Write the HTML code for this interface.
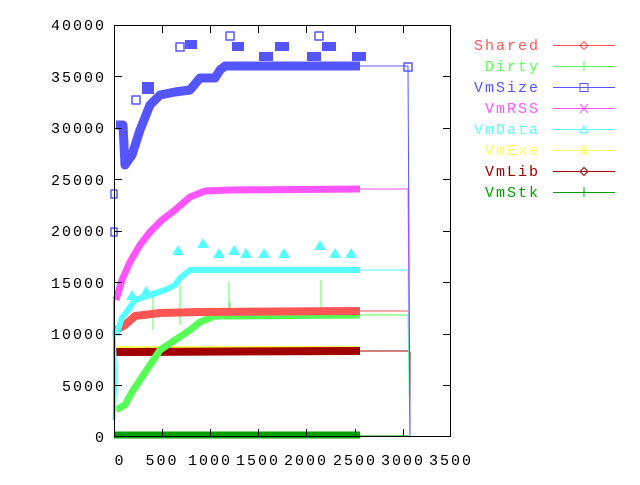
<!DOCTYPE html>
<html><head><style>
html,body{margin:0;padding:0;background:#fff;}
svg text{font-family:"Liberation Mono",monospace;font-size:15px;letter-spacing:2px;}
</style></head><body>
<svg width="640" height="480" xmlns="http://www.w3.org/2000/svg">
<g fill="none" stroke-linejoin="round">
<!-- VmStk -->
<path d="M114 435 L360 435" stroke="#00a000" stroke-width="7"/>
<path d="M360 436 L408 436 L410 437" stroke="#00a000" stroke-width="1"/>
<!-- VmExe -->
<path d="M114 349 L360 349" stroke="#ffff55" stroke-width="6"/>
<!-- VmLib -->
<path d="M116 352 L360 351" stroke="#a00000" stroke-width="8"/>
<path d="M360 351 L408 351 L410 352 L410 437" stroke="#a00000" stroke-width="1"/>
<!-- Dirty -->
<path d="M116 410 L125 405 L132 392 L140 380 L150 365 L160 350 L175 340 L190 330 L200 322 L215 316 L240 316 L360 315" stroke="#55ff55" stroke-width="7"/>
<path d="M360 315 L408 315 L410 437" stroke="#55ff55" stroke-width="1"/>
<path d="M153 290 L153 330 M180 285 L180 325 M229 282 L229 318 M321 280 L321 318 M230 302 L230 318" stroke="#55ff55" stroke-width="1"/>
<!-- Shared -->
<path d="M116 330 L125 325 L135 316 L160 313 L200 312 L360 311" stroke="#ff5555" stroke-width="8"/>
<path d="M360 311 L408 311" stroke="#ff5555" stroke-width="1"/>
<!-- VmData -->
<path d="M116 335 L122 318 L135 300 L150 295 L165 290 L175 285 L180 278 L190 270 L360 270" stroke="#55ffff" stroke-width="6"/>
<path d="M360 270 L408 270 L410 437" stroke="#55ffff" stroke-width="1"/>
<path d="M114 420 L116 380 L114 330" stroke="#55ffff" stroke-width="3"/>
<g fill="#55ffff" stroke="none">
<path d="M172 255 l6 -10 l6 10z M197 248 l6 -10 l6 10z M213 258 l6 -10 l6 10z M228 255 l6 -10 l6 10z M240 258 l6 -10 l6 10z M258 258 l6 -10 l6 10z M278 258 l6 -10 l6 10z M314 250 l6 -10 l6 10z M329 258 l6 -10 l6 10z M345 258 l6 -10 l6 10z M126 300 l6 -10 l6 10z M140 296 l6 -10 l6 10z"/>
</g>
<!-- VmRSS -->
<path d="M116 300 L122 280 L130 262 L140 245 L150 232 L162 220 L175 210 L190 197 L205 191 L230 190 L360 189" stroke="#ff55ff" stroke-width="7"/>
<path d="M360 189 L408 189 L410 437" stroke="#ff55ff" stroke-width="1"/>
<path d="M114 300 L114 420" stroke="#ff55ff" stroke-width="2"/>
<!-- VmSize -->
<path d="M116 125 L123 125 L125 165 L132 155 L140 130 L150 105 L160 95 L175 92 L190 90 L200 78 L215 78 L220 70 L225 66 L360 66" stroke="#5555ff" stroke-width="9"/>
<path d="M360 66 L408 66 L410 437" stroke="#5555ff" stroke-width="1"/>
<g stroke="#5555ff" stroke-width="1.5">
<rect x="132" y="96" width="8" height="8"/><rect x="176" y="43" width="8" height="8"/><rect x="226" y="32" width="8" height="8"/><rect x="315" y="32" width="8" height="8"/><rect x="111" y="228" width="6" height="8"/><rect x="111" y="190" width="6" height="8"/><rect x="404" y="63" width="8" height="8"/>
</g>
<g fill="#5555ff" stroke="none">
<rect x="185" y="40" width="12" height="9"/><rect x="232" y="42" width="12" height="9"/><rect x="275" y="42" width="14" height="9"/><rect x="322" y="42" width="14" height="9"/><rect x="259" y="52" width="14" height="9"/><rect x="307" y="52" width="14" height="9"/><rect x="352" y="52" width="14" height="9"/><rect x="142" y="82" width="12" height="12"/>
</g>
</g>
<!-- axes -->
<g stroke="#000" stroke-width="1" fill="none">
<rect x="114.5" y="25.5" width="336" height="411"/>
<path d="M114 385.5h8M114 334.5h8M114 282.5h8M114 231.5h8M114 179.5h8M114 128.5h8M114 76.5h8 M451 385.5h-8M451 334.5h-8M451 282.5h-8M451 231.5h-8M451 179.5h-8M451 128.5h-8M451 76.5h-8"/>
<path d="M162.5 437v-8M210.5 437v-8M258.5 437v-8M306.5 437v-8M355.5 437v-8M403.5 437v-8 M162.5 25v8M210.5 25v8M258.5 25v8M306.5 25v8M355.5 25v8M403.5 25v8"/>
</g>
<g fill="#000" text-anchor="end">
<text x="106" y="442">0</text><text x="106" y="391">5000</text><text x="106" y="339">10000</text><text x="106" y="288">15000</text><text x="106" y="236">20000</text><text x="106" y="185">25000</text><text x="106" y="133">30000</text><text x="106" y="82">35000</text><text x="106" y="30">40000</text>
</g>
<g fill="#000" text-anchor="middle">
<text x="120" y="465">0</text><text x="162" y="465">500</text><text x="210" y="465">1000</text><text x="258" y="465">1500</text><text x="306" y="465">2000</text><text x="355" y="465">2500</text><text x="403" y="465">3000</text><text x="451" y="465">3500</text>
</g>
<!-- legend -->
<g text-anchor="end">
<text x="540" y="50" fill="#ff5555">Shared</text>
<text x="540" y="71" fill="#55ff55">Dirty</text>
<text x="540" y="92" fill="#5555ff">VmSize</text>
<text x="540" y="113" fill="#ff55ff">VmRSS</text>
<text x="540" y="134" fill="#55ffff">VmData</text>
<text x="540" y="155" fill="#ffff55">VmExe</text>
<text x="540" y="176" fill="#a00000">VmLib</text>
<text x="540" y="197" fill="#00a000">VmStk</text>
</g>
<g stroke-width="1" fill="none">
<path d="M553 45.5h62" stroke="#ff5555"/><path d="M580 45.5l4-4l4 4l-4 4z" stroke="#ff5555"/>
<path d="M553 66.5h62M584 61v10" stroke="#55ff55"/>
<path d="M553 87.5h62" stroke="#5555ff"/><rect x="580" y="83.5" width="8" height="8" stroke="#5555ff"/>
<path d="M553 108.5h62M580 104l8 9M588 104l-8 9" stroke="#ff55ff"/>
<path d="M553 129.5h62M580 133l4-7l4 7z" stroke="#55ffff"/>
<path d="M553 150.5h62M580 146l8 9M588 146l-8 9M584 145v11" stroke="#ffff55"/>
<path d="M553 171.5h62" stroke="#a00000"/><path d="M580 171.5l4-4l4 4l-4 4z" stroke="#a00000"/>
<path d="M553 192.5h62M584 187v10" stroke="#00a000"/>
</g>
</svg>
</body></html>
